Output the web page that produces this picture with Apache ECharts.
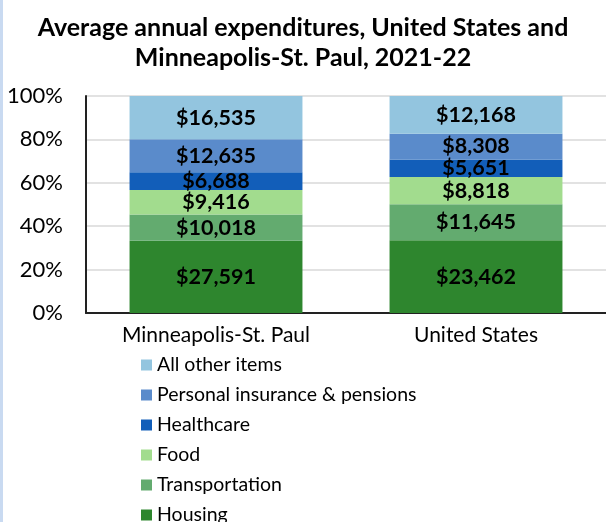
<!DOCTYPE html>
<html>
<head>
<meta charset="utf-8">
<script src="https://cdn.jsdelivr.net/npm/echarts@6/dist/echarts.min.js"></script>
<style>
  html, body { margin: 0; padding: 0; background: #fff; }
  #chart { width: 606px; height: 522px; }
</style>
</head>
<body>
<div id="chart"></div>
<script>
// places shown on the x axis
var places = ['Minneapolis-St. Paul', 'United States'];

// dollar amounts, one array per spending group (bottom of stack first)
var housing        = [27591, 23462];
var transportation = [10018, 11645];
var food           = [9416, 8818];
var healthcare     = [6688, 5651];
var insurance      = [12635, 8308];
var allOther       = [16535, 12168];

var groups = [
    { name: 'Housing', values: housing, color: '#2E862E' },
    { name: 'Transportation', values: transportation, color: '#63AB6F' },
    { name: 'Food', values: food, color: '#A2DC8E' },
    { name: 'Healthcare', values: healthcare, color: '#125EB9' },
    { name: 'Personal insurance & pensions', values: insurance, color: '#5A8BCB' },
    { name: 'All other items', values: allOther, color: '#93C5DF' }
];

var totals = places.map(function (p, i) {
    return groups.reduce(function (s, g) { return s + g.values[i]; }, 0);
});

var fontFamily = 'Lato, "Open Sans", sans-serif';

var series = groups.map(function (g) {
    return {
        name: g.name,
        type: 'bar',
        stack: 'total',
        barCategoryGap: '33.5%',
        itemStyle: { color: g.color },
        label: {
            show: true,
            position: 'inside',
            color: '#000',
            fontFamily: fontFamily,
            fontWeight: 'bold',
            fontSize: 21.5,
            formatter: function (p) {
                return '$' + g.values[p.dataIndex].toLocaleString('en-US');
            }
        },
        data: g.values.map(function (v, i) { return v / totals[i] * 100; })
    };
});

var chart = echarts.init(document.getElementById('chart'));
chart.setOption({
    backgroundColor: '#fff',
    animation: false,
    textStyle: { fontFamily: fontFamily },
    graphic: [{
        type: 'rect',
        shape: { x: 0, y: 0, width: 3, height: 522 },
        style: { fill: '#C9DAF1' }
    }],
    title: {
        text: 'Average annual expenditures, United States and\nMinneapolis-St. Paul, 2021-22',
        left: 'center',
        top: 8,
        textStyle: {
            fontFamily: fontFamily,
            fontWeight: 'bold',
            fontSize: 25,
            lineHeight: 30,
            color: '#000'
        }
    },
    legend: {
        orient: 'vertical',
        left: 136,
        top: 350,
        height: 220,
        itemWidth: 11,
        itemHeight: 11,
        itemGap: 10,
        icon: 'rect',
        data: groups.map(function (g) { return g.name; }).reverse(),
        textStyle: { fontFamily: fontFamily, fontSize: 19.5, color: '#000' }
    },
    grid: { left: 86, right: 0, top: 96, bottom: 209 },
    xAxis: {
        type: 'category',
        data: places,
        axisLine: { lineStyle: { color: '#222', width: 2 } },
        axisTick: { show: false },
        axisLabel: { color: '#000', fontSize: 21, margin: 12, fontFamily: fontFamily }
    },
    yAxis: {
        type: 'value',
        min: 0,
        max: 100,
        interval: 20,
        axisLine: { show: true, lineStyle: { color: '#222', width: 2 } },
        axisTick: { show: false },
        axisLabel: { color: '#000', fontSize: 22, margin: 23, formatter: '{value}%', fontFamily: fontFamily },
        splitLine: { lineStyle: { color: '#D9D9D9', width: 1.5 } }
    },
    series: series
});
</script>
</body>
</html>
